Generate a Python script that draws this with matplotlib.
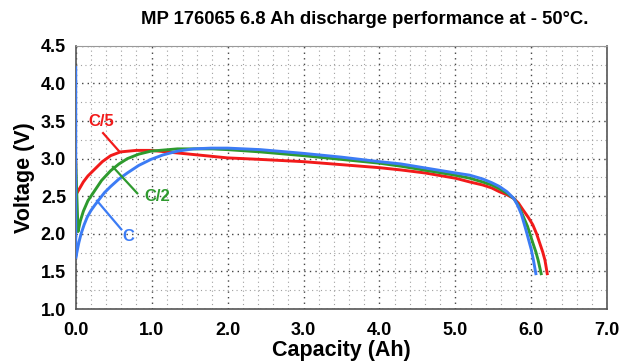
import matplotlib
matplotlib.use("Agg")
import matplotlib.pyplot as plt
from matplotlib.ticker import MultipleLocator

plt.rcParams['font.family'] = ['Liberation Sans', 'DejaVu Sans']
plt.rcParams['font.weight'] = 'bold'

# discharge curves (capacity in Ah, voltage in V)
red_ah = [0.0, 0.0, 0.02, 0.06, 0.1, 0.16, 0.24, 0.35, 0.46, 0.59, 0.8, 0.99, 1.5, 2.0, 2.43, 3.0, 3.5, 4.0, 4.28,
          4.6, 5.0, 5.19, 5.36, 5.48, 5.58, 5.68, 5.77, 5.83, 5.89, 5.96, 6.02, 6.07, 6.11, 6.15, 6.18, 6.21]
red_v = [2.95, 2.52, 2.55, 2.62, 2.69, 2.77, 2.85, 2.96, 3.04, 3.09, 3.11, 3.11, 3.06, 3.01, 2.99, 2.96, 2.92, 2.88,
         2.85, 2.81, 2.74, 2.69, 2.65, 2.61, 2.56, 2.52, 2.47, 2.41, 2.32, 2.22, 2.12, 2.00, 1.88, 1.76, 1.65, 1.47]

green_ah = [0.0, 0.03, 0.06, 0.1, 0.16, 0.24, 0.34, 0.46, 0.57, 0.68, 0.83, 0.99, 1.34, 1.8, 2.0, 2.43, 3.0, 3.5,
            4.0, 4.28, 5.0, 5.19, 5.36, 5.48, 5.58, 5.68, 5.77, 5.83, 5.89, 5.95, 6.02, 6.06, 6.09, 6.13]
green_v = [2.95, 2.03, 2.17, 2.30, 2.44, 2.56, 2.71, 2.84, 2.93, 3.00, 3.06, 3.10, 3.13, 3.13, 3.12, 3.09, 3.04, 2.99,
           2.94, 2.90, 2.78, 2.74, 2.69, 2.65, 2.60, 2.54, 2.47, 2.38, 2.24, 2.10, 1.88, 1.76, 1.65, 1.47]

blue_ah = [0.0, 0.0, 0.02, 0.04, 0.07, 0.11, 0.15, 0.2, 0.25, 0.31, 0.38, 0.46, 0.57, 0.68, 0.83, 0.99, 1.15, 1.34,
           1.55, 1.78, 2.0, 2.43, 3.0, 3.5, 4.0, 4.28, 5.0, 5.19, 5.36, 5.48, 5.58, 5.68, 5.77, 5.82, 5.87, 5.93,
           6.0, 6.03, 6.06]
blue_v = [4.21, 1.68, 1.78, 1.88, 2.00, 2.12, 2.22, 2.31, 2.38, 2.46, 2.55, 2.63, 2.73, 2.81, 2.91, 2.99, 3.05, 3.10,
          3.13, 3.14, 3.14, 3.12, 3.07, 3.02, 2.96, 2.93, 2.81, 2.78, 2.73, 2.68, 2.63, 2.56, 2.47, 2.38, 2.26, 2.05,
          1.79, 1.64, 1.47]

# rate labels: (text, label pos, pointer start, pointer end)
labels = [
    ("C/5", (0.33, 3.50), (0.36, 3.34), (0.57, 3.10)),
    ("C/2", (1.07, 2.50), (0.81, 2.54), (0.49, 2.89)),
    ("C", (0.69, 1.96), (0.60, 2.06), (0.28, 2.44)),
]
colors = ['#f21a1a', '#2e9a2e', '#3c7cf5']

fig = plt.figure(figsize=(6.26, 3.64), dpi=100)
ax = fig.add_axes([0.121, 0.151, 0.849, 0.723])

ax.plot(red_ah, red_v, color=colors[0], lw=2.1, zorder=3)
ax.plot(green_ah, green_v, color=colors[1], lw=2.1, zorder=4)
ax.plot(blue_ah, blue_v, color=colors[2], lw=2.1, zorder=5)

for (txt, pos, p0, p1), c in zip(labels, colors):
    ax.text(pos[0], pos[1], txt, color=c, fontsize=12, fontweight='bold', ha='center', va='center')
    ax.plot([p0[0], p1[0]], [p0[1], p1[1]], color=c, lw=1.6, zorder=6)

ax.set_xlim(0, 7)
ax.set_ylim(1.0, 4.5)
ax.xaxis.set_major_locator(MultipleLocator(1.0))
ax.xaxis.set_minor_locator(MultipleLocator(0.2))
ax.yaxis.set_major_locator(MultipleLocator(0.5))
ax.yaxis.set_minor_locator(MultipleLocator(0.25))
ax.set_xticklabels(["%.1f" % v for v in ax.get_xticks()])
ax.set_yticklabels(["%.1f" % v for v in ax.get_yticks()])
ax.tick_params(which='both', length=0, labelsize=13)
ax.tick_params(axis='x', pad=9)
ax.tick_params(axis='y', pad=7)

ax.grid(which='major', color='#444444', linestyle=(0, (1, 3)), lw=1.0)
ax.grid(which='minor', color='#a0a0a0', linestyle=(0, (1, 3)), lw=0.8)

for side in ['left', 'bottom', 'right']:
    ax.spines[side].set_color('#555555')
    ax.spines[side].set_linewidth(1.2)
ax.spines['top'].set_color('#999999')

fig.text(365 / 626, 1 - 19 / 364, "MP 176065 6.8 Ah discharge performance at - 50°C.",
         fontsize=13.3, fontweight='bold', ha='center', va='center')
ax.set_xlabel("Capacity (Ah)", fontsize=15.5, fontweight='bold', labelpad=1)
ax.set_ylabel("Voltage (V)", fontsize=15.5, fontweight='bold', labelpad=4)

fig.savefig("out.png", dpi=100)
